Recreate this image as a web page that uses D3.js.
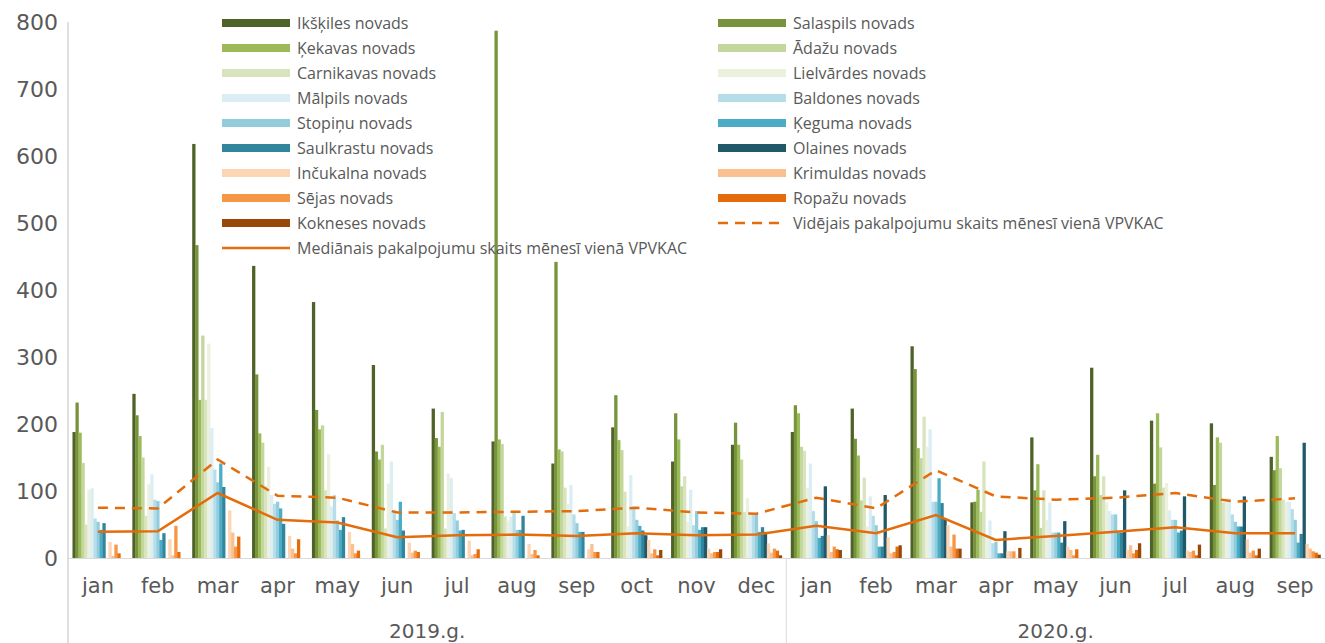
<!DOCTYPE html>
<html>
<head>
<meta charset="utf-8">
<script src="https://cdn.jsdelivr.net/npm/d3@7"></script>
<style>
  body { margin: 0; background: #fff; }
  text { fill: #595959; }
  .axis text { font-family: "DejaVu Sans", sans-serif; font-size: 21px; }
  .axis_y text { font-family: "DejaVu Sans", sans-serif; font-size: 22px; }
  .legend_text { font-family: "Open Sans", sans-serif; font-size: 16px; }
</style>
</head>
<body>
<div id="graphic"></div>
<script>
// months on the category axis (two years)
const monthLabels = ['jan', 'feb', 'mar', 'apr', 'may', 'jun', 'jul', 'aug', 'sep', 'oct', 'nov', 'dec',
  'jan', 'feb', 'mar', 'apr', 'may', 'jun', 'jul', 'aug', 'sep'];
const yearLabels = ['2019.g.', '2020.g.'];
const monthsPerYear = [12, 9];
const yTicks = [0, 100, 200, 300, 400, 500, 600, 700, 800];

const seriesNames = ['Ikšķiles novads', 'Salaspils novads', 'Ķekavas novads', 'Ādažu novads',
  'Carnikavas novads', 'Lielvārdes novads', 'Mālpils novads', 'Baldones novads', 'Stopiņu novads',
  'Ķeguma novads', 'Saulkrastu novads', 'Olaines novads', 'Inčukalna novads', 'Krimuldas novads',
  'Sējas novads', 'Ropažu novads', 'Kokneses novads'];
const seriesColors = ['#4F6228', '#77933C', '#9BBB59', '#C3D69B', '#D7E4BD', '#EBF1DE', '#DBEEF4',
  '#B7DEE8', '#93CDDD', '#4BACC6', '#31859C', '#215968', '#FCD5B5', '#FAC090', '#F79646',
  '#E46C0A', '#984807'];

const ikskiles   = [188, 245, 618, 436, 382, 288, 223, 174, 141, 195, 144, 169, 188, 223, 316, 83, 180, 284, 205, 201, 151];
const salaspils  = [232, 213, 467, 274, 221, 159, 179, 787, 442, 243, 216, 202, 228, 178, 282, 84, 101, 122, 111, 109, 131];
const kekavas    = [187, 182, 236, 186, 192, 147, 166, 177, 162, 176, 177, 169, 216, 153, 164, 102, 140, 154, 216, 180, 182];
const adazu      = [142, 150, 332, 172, 198, 169, 218, 170, 159, 161, 107, 147, 166, 86, 149, 69, 45, 94, 165, 172, 134];
const carnikavas = [50, 63, 236, 107, 101, 44, 44, 62, 105, 99, 122, 69, 160, 120, 211, 144, 101, 122, 105, 83, 87];
const lielvardes = [102, 110, 320, 136, 155, 111, 126, 56, 81, 47, 54, 89, 105, 47, 166, 32, 57, 83, 112, 89, 84];
const malpils    = [104, 125, 194, 94, 77, 144, 119, 62, 109, 124, 102, 67, 141, 92, 192, 56, 83, 70, 71, 89, 84];
const baldones   = [59, 87, 132, 81, 94, 71, 67, 68, 65, 77, 49, 65, 70, 63, 84, 22, 38, 65, 57, 65, 73];
const stopinu    = [54, 85, 113, 84, 56, 57, 56, 42, 52, 57, 70, 65, 55, 49, 84, 24, 38, 65, 57, 54, 57];
const keguma     = [42, 27, 141, 74, 42, 84, 41, 42, 39, 48, 42, 39, 30, 17, 119, 7, 38, 38, 38, 47, 23];
const saulkrastu = [52, 37, 106, 51, 61, 41, 42, 63, 39, 41, 46, 46, 33, 17, 82, 7, 23, 38, 41, 47, 36];
const olaines    = [0, 0, 0, 0, 0, 0, 0, 0, 0, 34, 46, 39, 107, 94, 59, 40, 55, 101, 92, 92, 172];
const incukalna  = [24, 28, 71, 33, 39, 23, 26, 21, 13, 27, 14, 22, 34, 31, 49, 10, 17, 12, 11, 28, 21];
const krimuldas  = [3, 4, 38, 14, 21, 8, 4, 6, 21, 7, 7, 8, 9, 7, 17, 10, 12, 19, 9, 8, 14];
const sejas      = [20, 48, 17, 7, 7, 11, 6, 12, 9, 13, 9, 14, 17, 9, 35, 10, 4, 7, 11, 11, 10];
const ropazu     = [7, 9, 32, 28, 11, 9, 13, 4, 9, 4, 9, 11, 13, 17, 14, 0, 13, 12, 4, 4, 8];
const kokneses   = [0, 0, 0, 0, 0, 0, 0, 0, 0, 12, 13, 4, 12, 19, 14, 15, 0, 22, 20, 14, 5];

const averageName = 'Vidējais pakalpojumu skaits mēnesī vienā VPVKAC';
const medianName = 'Mediānais pakalpojumu skaits mēnesī vienā VPVKAC';
const averageValues = [75, 74, 147, 93, 90, 68, 68, 69, 70, 75, 68, 66, 90, 74, 131, 92, 87, 90, 97, 84, 89];
const medianValues = [39, 40, 97, 57, 53, 31, 34, 35, 33, 37, 34, 35, 48, 37, 64, 27, 33, 39, 46, 37, 37];

const seriesValues = [ikskiles, salaspils, kekavas, adazu, carnikavas, lielvardes, malpils, baldones,
  stopinu, keguma, saulkrastu, olaines, incukalna, krimuldas, sejas, ropazu, kokneses];

const lineColor = '#E46C0A';
const width = 1325;
const height = 643;
const plot = { left: 68, right: 1325, top: 22, bottom: 558 };

const svg = d3.select('#graphic').append('svg')
  .attr('width', width)
  .attr('height', height);

const monthIdx = monthLabels.map((d, i) => i);

const x0 = d3.scaleBand()
  .domain(monthIdx)
  .range([plot.left, plot.right])
  .paddingInner(0.15)
  .paddingOuter(0.075);

const x1 = d3.scaleBand()
  .domain(seriesNames)
  .range([0, x0.bandwidth()]);

const y = d3.scaleLinear()
  .domain([0, 800])
  .range([plot.bottom, plot.top]);

// bars
const groups = svg.append('g').selectAll('g')
  .data(monthIdx)
  .enter().append('g')
  .attr('transform', i => 'translate(' + x0(i) + ',0)');

groups.selectAll('rect')
  .data(i => seriesNames.map((name, s) => ({ name: name, s: s, value: seriesValues[s][i] })))
  .enter().append('rect')
  .attr('x', d => x1(d.name))
  .attr('width', x1.bandwidth() + 0.3)
  .attr('y', d => y(d.value))
  .attr('height', d => y(0) - y(d.value))
  .attr('fill', d => seriesColors[d.s]);

// y axis labels (no axis line, no ticks)
const yAxis = d3.axisLeft(y).tickValues(yTicks).tickSize(0).tickPadding(10);
const yG = svg.append('g')
  .attr('class', 'axis_y')
  .attr('transform', 'translate(' + (plot.left) + ',0)')
  .call(yAxis);
yG.select('.domain').remove();

// vertical left border of the chart area, runs down through the category labels
svg.append('line')
  .attr('x1', plot.left).attr('x2', plot.left)
  .attr('y1', plot.top).attr('y2', height)
  .attr('stroke', '#BFBFBF').attr('stroke-width', 1);

// baseline
svg.append('line')
  .attr('x1', plot.left).attr('x2', plot.right)
  .attr('y1', y(0) + 0.5).attr('y2', y(0) + 0.5)
  .attr('stroke', '#D9D9D9').attr('stroke-width', 1);

// month labels
const xAxis = d3.axisBottom(x0).tickFormat(i => monthLabels[i]).tickSize(0).tickPadding(20);
const xG = svg.append('g')
  .attr('class', 'axis')
  .attr('transform', 'translate(0,' + plot.bottom + ')')
  .call(xAxis);
xG.select('.domain').remove();

// year labels + separators
let start = 0;
monthsPerYear.forEach((n, k) => {
  const left = k === 0 ? plot.left : x0(start) - x0.step() * x0.paddingInner() / 2;
  const last = start + n - 1;
  const right = last === monthIdx.length - 1 ? plot.right : x0(last) + x0.bandwidth() + x0.step() * x0.paddingInner() / 2;
  if (k > 0) {
    svg.append('line')
      .attr('x1', left).attr('x2', left)
      .attr('y1', plot.bottom).attr('y2', height)
      .attr('stroke', '#D9D9D9').attr('stroke-width', 1);
  }
  svg.append('text')
    .attr('x', (left + right) / 2)
    .attr('y', 638)
    .attr('text-anchor', 'middle')
    .style('font-family', '"DejaVu Sans", sans-serif')
    .style('font-size', '20px')
    .text(yearLabels[k]);
  start += n;
});

// lines
const line = d3.line()
  .x((d, i) => x0(i) + x0.bandwidth() / 2)
  .y(d => y(d));

svg.append('path')
  .datum(averageValues)
  .attr('fill', 'none')
  .attr('stroke', lineColor)
  .attr('stroke-width', 2.5)
  .attr('stroke-dasharray', '10,7')
  .attr('d', line);

svg.append('path')
  .datum(medianValues)
  .attr('fill', 'none')
  .attr('stroke', lineColor)
  .attr('stroke-width', 2.5)
  .attr('d', line);

// legend
const legendItems = seriesNames.map((n, i) => ({ name: n, color: seriesColors[i], kind: 'bar' }));
legendItems.push({ name: averageName, color: lineColor, kind: 'dash' });
legendItems.push({ name: medianName, color: lineColor, kind: 'line' });

const legendCols = [222, 718];
const legendSwatch = 68;

const legend = svg.selectAll('.legend')
  .data(legendItems)
  .enter().append('g')
  .attr('class', 'legend')
  .attr('transform', (d, i) => 'translate(' + legendCols[i % 2] + ',' + (23 + Math.floor(i / 2) * 25) + ')');

legend.filter(d => d.kind === 'bar').append('rect')
  .attr('x', 0).attr('y', -4)
  .attr('width', legendSwatch).attr('height', 8)
  .attr('fill', d => d.color);

legend.filter(d => d.kind !== 'bar').append('line')
  .attr('x1', 0).attr('x2', legendSwatch)
  .attr('y1', 0).attr('y2', 0)
  .attr('stroke', d => d.color)
  .attr('stroke-width', 2.5)
  .attr('stroke-dasharray', d => d.kind === 'dash' ? '10,7' : null);

legend.append('text')
  .attr('class', 'legend_text')
  .attr('x', legendSwatch + 7)
  .attr('y', 0)
  .attr('dy', '0.35em')
  .text(d => d.name);
</script>
</body>
</html>
